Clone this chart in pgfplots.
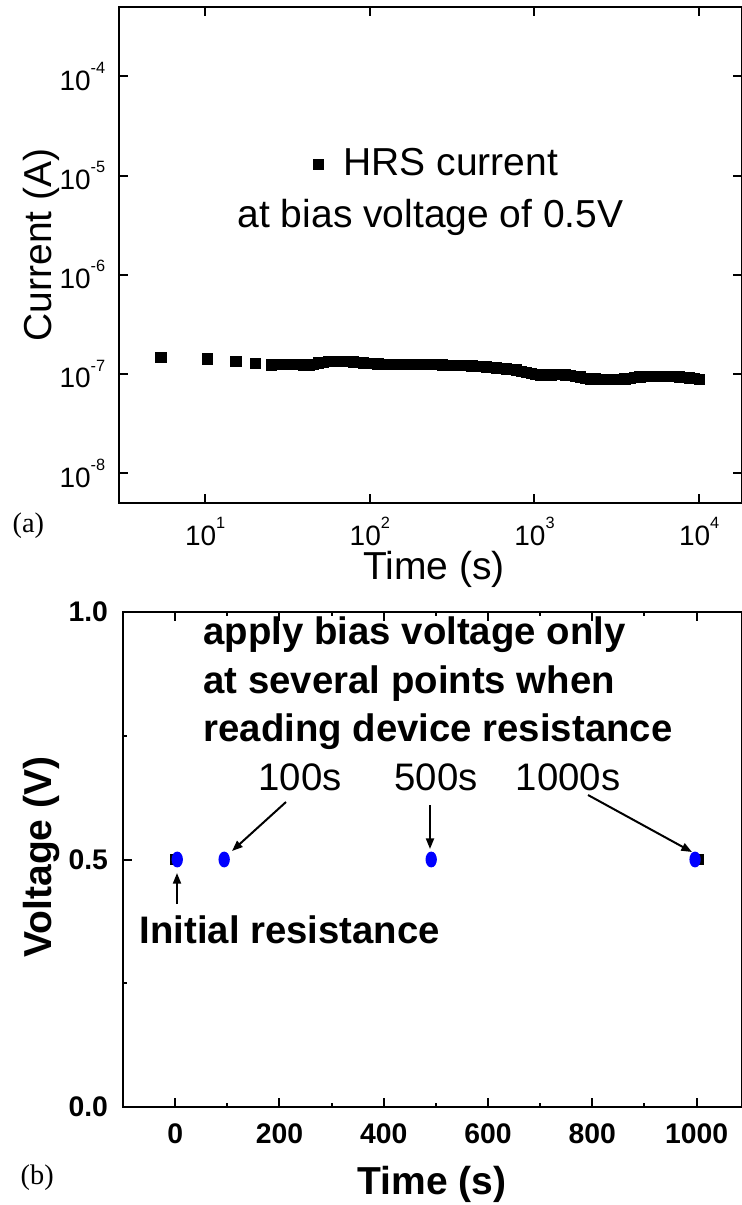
\documentclass[border=0pt]{standalone}
\usepackage{fontspec}
\setmainfont{Liberation Sans}
\newfontfamily\serifone{Liberation Serif}
\usepackage{pgfplots}
\pgfplotsset{compat=1.18}
\usetikzlibrary{arrows.meta}
\definecolor{ptblue}{RGB}{0,0,255}
\newcommand\ex[1]{10\raisebox{5pt}{\fontsize{4.9}{5}\selectfont #1}}

\pgfplotstableread{
t I
5.4 1.46e-7
10.3 1.41e-7
15.4 1.33e-7
20.2 1.28e-7
25.3 1.23e-7
28.2 1.242e-7
30.2 1.245e-7
32.4 1.247e-7
34.7 1.253e-7
37.2 1.245e-7
39.8 1.233e-7
42.7 1.219e-7
45.7 1.236e-7
49.0 1.288e-7
52.5 1.312e-7
56.2 1.330e-7
60.3 1.343e-7
64.6 1.343e-7
69.2 1.343e-7
74.1 1.330e-7
79.4 1.315e-7
85.1 1.300e-7
91.2 1.288e-7
97.7 1.276e-7
104.7 1.265e-7
112.2 1.256e-7
120.2 1.247e-7
128.8 1.245e-7
138.0 1.245e-7
147.9 1.247e-7
158.5 1.250e-7
169.8 1.253e-7
182.0 1.253e-7
195.0 1.253e-7
208.9 1.253e-7
223.9 1.250e-7
239.9 1.245e-7
257.0 1.236e-7
275.4 1.230e-7
295.1 1.222e-7
316.2 1.211e-7
338.8 1.208e-7
363.1 1.211e-7
389.0 1.213e-7
416.9 1.205e-7
446.7 1.197e-7
478.6 1.189e-7
512.9 1.178e-7
549.5 1.161e-7
588.8 1.148e-7
631.0 1.135e-7
676.1 1.122e-7
724.4 1.109e-7
776.2 1.094e-7
831.8 1.062e-7
891.3 1.030e-7
955.0 1.005e-7
1023 9.86e-8
1096 9.70e-8
1175 9.75e-8
1259 9.79e-8
1349 9.84e-8
1445 9.82e-8
1549 9.79e-8
1660 9.70e-8
1778 9.48e-8
1905 9.29e-8
2042 9.06e-8
2188 8.89e-8
2344 8.87e-8
2512 8.83e-8
2692 8.81e-8
2884 8.79e-8
3090 8.77e-8
3311 8.83e-8
3548 8.87e-8
3802 9.02e-8
4074 9.20e-8
4365 9.33e-8
4677 9.38e-8
5012 9.42e-8
5370 9.46e-8
5754 9.46e-8
6166 9.46e-8
6607 9.46e-8
7079 9.42e-8
7586 9.33e-8
8128 9.25e-8
8710 9.12e-8
9333 8.93e-8
10000 8.77e-8
}\hrsdata

\pgfplotstableread{
t V
4 0.5
94 0.5
491 0.5
997 0.5
}\voltdata

\pgfplotstableread{
t V
0 0.5
1004 0.5
}\blackdata

\begin{document}
\begin{tikzpicture}
\begin{axis}[
  at={(35.7pt,210.6pt)}, anchor=south west,
  scale only axis, width=186.9pt, height=148.8pt,
  xmode=log, ymode=log, log basis x=10, log basis y=10,
  xmin=3, xmax=18200, ymin=5e-9, ymax=5e-4,
  axis line style={line width=0.6pt},
  every tick/.style={line width=0.6pt, black},
  major tick length=2.7pt, minor tick length=1.4pt,
  xtick={10,100,1000,10000},
  xticklabels={\ex{1},\ex{2},\ex{3},\ex{4}},
  ytick={1e-8,1e-7,1e-6,1e-5,1e-4},
  yticklabels={\ex{-8},\ex{-7},\ex{-6},\ex{-5},\ex{-4}},
  tick label style={font=\fontsize{8.4}{9}\selectfont},
  xticklabel shift=0.8pt, yticklabel shift=0.6pt,
  legend style={draw=none, fill=none, at={(0.311,0.683)}, anchor=west,
    font=\fontsize{11.7}{14}\selectfont, inner sep=0pt},
  legend image code/.code={\draw[#1] plot coordinates {(0pt,0pt)};},
]
\addplot[only marks, mark=square*, mark size=1.5pt, black] table[x=t, y=I] {\hrsdata};
\addlegendentry{\hspace{4pt}HRS current}
\end{axis}

\begin{axis}[
  at={(36.9pt,29.4pt)}, anchor=south west,
  scale only axis, width=185.7pt, height=148.5pt,
  xmin=-100, xmax=1087, ymin=0, ymax=1,
  axis line style={line width=0.6pt},
  every tick/.style={line width=0.6pt, black},
  major tick length=2.7pt, minor tick length=1.3pt,
  ytick pos=left,
  xtick={0,200,400,600,800,1000},
  xticklabels={0,200,400,600,800,1000},
  minor xtick={100,300,500,700,900},
  ytick={0,0.5,1}, yticklabels={0.0,0.5,1.0},
  minor ytick={0.25,0.75},
  tick label style={font=\bfseries\fontsize{8.5}{10}\selectfont},
  xticklabel shift=1.6pt, yticklabel shift=1pt,
]
\addplot[only marks, mark=square*, mark size=1.35pt, black] table[x=t, y=V] {\blackdata};
\addplot[only marks, mark=*, mark size=1.5pt, mark options={yscale=1.45, fill=ptblue, draw=ptblue}] table[x=t, y=V] {\voltdata};
\end{axis}

\begin{scope}[x=0.3pt, y=-0.3pt, yshift=361.5pt]
% panel (a) texts
\node[anchor=base west, inner sep=0, font=\serifone\fontsize{8.5}{10}\selectfont] at (12,533) {(a)};
\node[anchor=base, inner sep=0, font=\fontsize{11.7}{14}\selectfont] at (434,580) {Time (s)};
\node[anchor=base, rotate=90, inner sep=0, font=\fontsize{11.7}{14}\selectfont] at (51,245) {Current (A)};
\node[anchor=base west, inner sep=0, font=\fontsize{11.7}{14}\selectfont] at (237,228) {at bias voltage of 0.5V};
% panel (b) texts
\node[anchor=base west, inner sep=0, font=\serifone\fontsize{8.5}{10}\selectfont] at (20,1184) {(b)};
\node[anchor=base, inner sep=0, font=\bfseries\fontsize{11.7}{14}\selectfont] at (432,1194) {Time (s)};
\node[anchor=base, rotate=90, inner sep=0, font=\bfseries\fontsize{11.7}{14}\selectfont] at (51,857) {Voltage (V)};
\node[anchor=base west, inner sep=0, font=\bfseries\fontsize{11.5}{14}\selectfont] at (203,645) {apply bias voltage only};
\node[anchor=base west, inner sep=0, font=\bfseries\fontsize{11.5}{14}\selectfont] at (203,693) {at several points when};
\node[anchor=base west, inner sep=0, font=\bfseries\fontsize{11.5}{14}\selectfont] at (203,741) {reading device resistance};
\node[anchor=base west, inner sep=0, font=\bfseries\fontsize{11.5}{14}\selectfont] at (139,943) {Initial resistance};
\node[anchor=base, inner sep=0, font=\fontsize{11.5}{14}\selectfont] at (300,790) {100s};
\node[anchor=base, inner sep=0, font=\fontsize{11.5}{14}\selectfont] at (436,790) {500s};
\node[anchor=base, inner sep=0, font=\fontsize{11.5}{14}\selectfont] at (568,790) {1000s};
\begin{scope}[line width=0.6pt, -{Triangle[length=3.2pt,width=2.4pt]}]
\draw (177,904) -- (177,873);
\draw (286,802) -- (232,851);
\draw (430,805) -- (430,849);
\draw (588,795) -- (692,852);
\end{scope}
\end{scope}

\pgfresetboundingbox
\path[use as bounding box] (0pt,0pt) rectangle (222.3pt,361.5pt);
\end{tikzpicture}
\end{document}
